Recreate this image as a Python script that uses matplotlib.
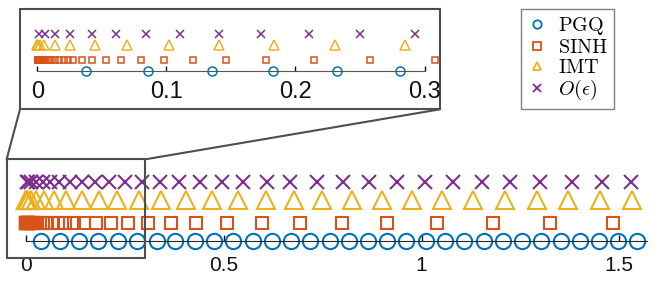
#-----------------------------------------------------------------
# Quadrature node locations on [0, pi/2] with a zoomed inset
#-----------------------------------------------------------------
import matplotlib.pyplot as plt
import numpy as np
from matplotlib.patches import Rectangle, ConnectionPatch

# node locations
pgq = [0.0375, 0.086, 0.135, 0.183, 0.232, 0.281, 0.330, 0.378, 0.427, 0.476,
       0.524, 0.573, 0.622, 0.670, 0.719, 0.768, 0.816, 0.865, 0.914, 0.962,
       1.011, 1.060, 1.108, 1.157, 1.206, 1.254, 1.303, 1.352, 1.400, 1.449,
       1.498, 1.546]
sinh = [0.0002, 0.0003, 0.0004, 0.0005, 0.0006, 0.0008, 0.0010, 0.0012,
        0.0015, 0.0018, 0.0022, 0.0027, 0.0033, 0.0040, 0.0049, 0.0060,
        0.0073, 0.0089, 0.0108, 0.0140, 0.0171, 0.0207, 0.0240, 0.0279,
        0.0344, 0.0422, 0.0530, 0.0649, 0.0802, 0.0983, 0.1203, 0.1462,
        0.1774, 0.2142, 0.2581, 0.308, 0.366, 0.431, 0.509, 0.596, 0.692,
        0.798, 0.914, 1.038, 1.181, 1.325, 1.485]
imt = [0.0, 0.00002, 0.0004, 0.0018, 0.0055, 0.0135, 0.0254, 0.0450, 0.0698,
       0.1024, 0.1407, 0.1837, 0.2310, 0.2850, 0.342, 0.405, 0.470, 0.537,
       0.606, 0.678, 0.749, 0.824, 0.899, 0.975, 1.053, 1.131, 1.211, 1.291,
       1.371, 1.451, 1.532]
oeps = [0.0015, 0.0060, 0.0137, 0.0257, 0.0420, 0.0610, 0.0841, 0.1107,
        0.1407, 0.1733, 0.2106, 0.2504, 0.2930, 0.339, 0.388, 0.441, 0.495,
        0.549, 0.610, 0.668, 0.735, 0.802, 0.868, 0.937, 1.009, 1.080, 1.152,
        1.224, 1.300, 1.380, 1.456, 1.530]

labels = [r'$\mathrm{PGQ}$', r'$\mathrm{SINH}$', r'$\mathrm{IMT}$', r'$O(\epsilon)$']
main_ticks = [0, 0.5, 1, 1.5]
main_ticklabels = ['0', '0.5', '1', '1.5']
inset_ticks = [0, 0.1, 0.2, 0.3]
inset_ticklabels = ['0', '0.1', '0.2', '0.3']

# styling
plt.rcParams['mathtext.fontset'] = 'cm'
plt.rcParams['font.family'] = 'Liberation Sans'
colors = ['#0072BD', '#D95319', '#EDB120', '#7E2F8E']
markers = ['o', 's', '^', 'x']
rows = [0, 1, 2.25, 3.25]
main_ms = [11, 9, 12.5, 9.5]
inset_ms = [6.5, 5, 7.5, 5.5]
axis_col = '#262626'
box_col = '#4b4f54'
series = [pgq, sinh, imt, oeps]

fig = plt.figure(figsize=(6.6, 2.82), dpi=100)

# main axis
ax = fig.add_axes([0, 0, 1, 1])
ax.set_xlim(-0.0657, 1.603)
ax.set_ylim(-2.29, 13.37)
ax.patch.set_alpha(0)
for s in ['top', 'left', 'right']:
    ax.spines[s].set_visible(False)
ax.spines['bottom'].set_position(('data', 0))
ax.spines['bottom'].set_bounds(0, np.pi / 2)
ax.spines['bottom'].set_color(axis_col)
ax.set_yticks([])
ax.set_xticks(main_ticks, main_ticklabels)
ax.tick_params(axis='x', direction='in', length=4, width=1, pad=11,
               labelsize=15, colors='#111111')

lines = []
for vals, row, c, m, ms, lab in zip(series, rows, colors, markers, main_ms, labels):
    x = np.array(vals)
    ln, = ax.plot(x, np.full_like(x, row), linestyle='none', marker=m,
                  markersize=ms, markerfacecolor='none', markeredgecolor=c,
                  markeredgewidth=1.5, label=lab, clip_on=False)
    lines.append(ln)

# zoom box on main axis
ax.add_patch(Rectangle((-0.049, -0.98), 0.35, 5.5, fill=False,
                       edgecolor=box_col, linewidth=1.5, zorder=5))

# inset
axi = fig.add_axes([20 / 660, (282 - 109.3) / 282, 420 / 660, 100 / 282])
axi.set_xlim(-0.0134, 0.312)
axi.set_ylim(-3.33, 5.37)
for s in ['top', 'left', 'right']:
    axi.spines[s].set_visible(False)
axi.spines['bottom'].set_position(('data', 0))
axi.spines['bottom'].set_bounds(0, 0.3)
axi.spines['bottom'].set_color('#555555')
axi.set_yticks([])
axi.set_xticks(inset_ticks, inset_ticklabels)
axi.tick_params(axis='x', direction='in', length=3.5, width=1, pad=7,
                labelsize=17, colors='#111111')
axi.add_patch(Rectangle((0, 0), 1, 1, transform=axi.transAxes, fill=False,
                        edgecolor=box_col, linewidth=1.5, clip_on=False))
for vals, row, c, m, ms in zip(series, rows, colors, markers, inset_ms):
    x = np.array(vals)
    axi.plot(x, np.full_like(x, row), linestyle='none', marker=m,
             markersize=ms, markerfacecolor='none', markeredgecolor=c,
             markeredgewidth=1.1)

# connector lines
for xa, xb in [(-0.049, 0), (0.301, 1)]:
    cp = ConnectionPatch(xyA=(xa, 4.52), coordsA=ax.transData,
                         xyB=(xb, 0), coordsB=axi.transAxes,
                         color=box_col, linewidth=1.5)
    fig.add_artist(cp)

# legend
leg = ax.legend(handles=lines, loc='upper left',
                bbox_to_anchor=(521 / 660, (282 - 9.3) / 282),
                bbox_transform=fig.transFigure, borderaxespad=0,
                fancybox=False, edgecolor='#808080', framealpha=1,
                fontsize=14.5, handlelength=1.0, handletextpad=0.55,
                labelspacing=0.05, borderpad=0.3)
leg.get_frame().set_linewidth(1.0)
for h in leg.legend_handles:
    h.set_markersize(6)
    h.set_markeredgewidth(1.3)

plt.savefig('out.png', dpi=100)
